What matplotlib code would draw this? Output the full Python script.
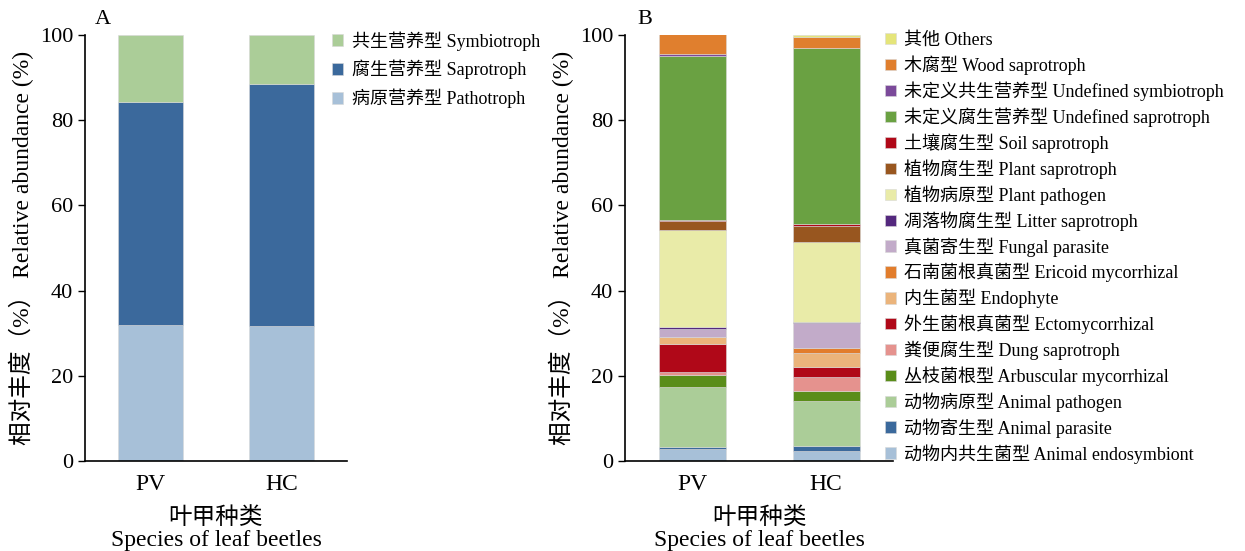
import matplotlib
matplotlib.use("Agg")
import matplotlib.pyplot as plt
import numpy as np

plt.rcParams["font.family"] = ["Liberation Serif", "Noto Sans CJK SC"]

species = ["PV", "HC"]

# Panel A: trophic modes (bottom -> top)
modes_a = ["病原营养型 Pathotroph", "腐生营养型 Saprotroph", "共生营养型 Symbiotroph"]
pathotroph = [31.9, 31.8]
saprotroph = [52.3, 56.6]
symbiotroph = [15.8, 11.6]
colors_a = ["#a7c0d8", "#3b699c", "#abcd98"]

# Panel B: guilds (bottom -> top)
guilds = [
    "动物内共生菌型 Animal endosymbiont",
    "动物寄生型 Animal parasite",
    "动物病原型 Animal pathogen",
    "丛枝菌根型 Arbuscular mycorrhizal",
    "粪便腐生型 Dung saprotroph",
    "外生菌根真菌型 Ectomycorrhizal",
    "内生菌型 Endophyte",
    "石南菌根真菌型 Ericoid mycorrhizal",
    "真菌寄生型 Fungal parasite",
    "凋落物腐生型 Litter saprotroph",
    "植物病原型 Plant pathogen",
    "植物腐生型 Plant saprotroph",
    "土壤腐生型 Soil saprotroph",
    "未定义腐生营养型 Undefined saprotroph",
    "未定义共生营养型 Undefined symbiotroph",
    "木腐型 Wood saprotroph",
    "其他 Others",
]
pv_guild = [2.7, 0.5, 14.2, 2.7, 0.8, 6.5, 1.6, 0.2, 1.7, 0.6, 22.7, 2.2, 0.1, 38.6, 0.4, 4.7, 0.0]
hc_guild = [2.4, 1.2, 10.6, 2.2, 3.3, 2.3, 3.4, 1.1, 5.9, 0.3, 18.7, 3.8, 0.5, 41.2, 0.0, 2.7, 0.3]
colors_b = ["#a7c0d8", "#3b699c", "#abcd98", "#5a8d1a", "#e5928e", "#b00818",
            "#ebb47b", "#e27d2c", "#c2abc9", "#54287e", "#e9eba8", "#98561f",
            "#b00818", "#6aa142", "#7b4a9a", "#e07f2e", "#e5e57a"]

fig = plt.figure(figsize=(12.45, 5.51), dpi=100)
W, H = 1245, 551
axA = fig.add_axes([85 / W, 90 / H, 262 / W, 426 / H])
axB = fig.add_axes([625 / W, 90 / H, 268 / W, 426 / H])

x = np.arange(len(species))


def style(ax):
    ax.set_xlim(-0.5, 1.5)
    ax.set_ylim(0, 100)
    ax.spines["top"].set_visible(False)
    ax.spines["right"].set_visible(False)
    ax.spines["left"].set_linewidth(1.2)
    ax.spines["bottom"].set_linewidth(1.2)
    ax.set_xticks(x)
    ax.set_xticklabels(species, fontsize=17)
    ax.tick_params(axis="x", length=0, pad=9)
    ax.tick_params(axis="y", labelsize=16, length=5, width=1)
    ax.set_yticks([0, 20, 40, 60, 80, 100])
    ax.set_ylabel("相对丰度（%） Relative abundance (%)", fontsize=17, labelpad=4)
    ax.set_xlabel("叶甲种类\nSpecies of leaf beetles", fontsize=17, linespacing=1.05, labelpad=9)


# Panel A
bottom = np.zeros(2)
handles_a = []
for vals, lab, col in zip([pathotroph, saprotroph, symbiotroph], modes_a, colors_a):
    h = axA.bar(x, vals, 0.5, bottom=bottom, color=col, label=lab,
                edgecolor="#d8d8d8", linewidth=0.4)
    handles_a.append(h)
    bottom += np.array(vals)
style(axA)
axA.legend(handles_a[::-1], modes_a[::-1], loc="upper left",
           bbox_to_anchor=(332 / W, 1 - 31 / H), bbox_transform=fig.transFigure,
           frameon=False, fontsize=13, handlelength=0.6, handleheight=0.6,
           handletextpad=0.5, labelspacing=0.52, borderaxespad=0, borderpad=0)
fig.text(95 / W, 1 - 20 / H, "A", fontsize=16, va="center", ha="left")

# Panel B
bottom = np.zeros(2)
handles_b = []
for i, lab in enumerate(guilds):
    vals = np.array([pv_guild[i], hc_guild[i]])
    h = axB.bar(x, vals, 0.5, bottom=bottom, color=colors_b[i], label=lab,
                edgecolor="#d8d8d8", linewidth=0.4)
    handles_b.append(h)
    bottom += vals
style(axB)
axB.legend(handles_b[::-1], guilds[::-1], loc="upper left",
           bbox_to_anchor=(885 / W, 1 - 32 / H), bbox_transform=fig.transFigure,
           frameon=False, fontsize=13, handlelength=0.6, handleheight=0.6,
           handletextpad=0.45, labelspacing=0.35, borderaxespad=0, borderpad=0)
fig.text(637 / W, 1 - 20 / H, "B", fontsize=16, va="center", ha="left")

fig.savefig("out.png", dpi=100)
